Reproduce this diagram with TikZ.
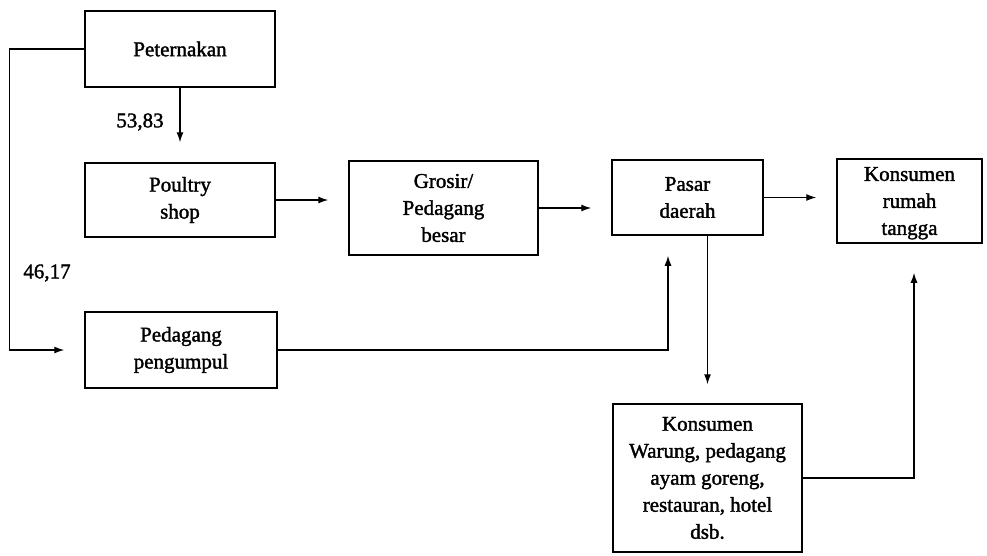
\documentclass[tikz,border=0pt]{standalone}
\usepackage{fontspec}
\setmainfont{Liberation Serif}
\newfontfamily\scanfont{Liberation Serif}[FakeBold=1.6]
\usetikzlibrary{arrows.meta,calc}
\tikzset {>={Latex[length=10pt,width=7pt]}}
\tikzset{box/.style={draw,line width=1.5pt,align=center,inner sep=0pt,
    font=\scanfont\fontsize{21}{27}\selectfont},
  flow/.style={->,line width=1.3pt},
  lbl/.style={font=\scanfont\fontsize{21}{27}\selectfont}}

\begin{document}
\begin{tikzpicture}[x=1pt,y=-1pt]
\useasboundingbox (0,0) rectangle (987,555);

\node[box,minimum width=190pt,minimum height=76pt] (pet) at (180,49) {Peternakan};
\node[box,minimum width=190pt,minimum height=74pt] (poul) at (180,200) {Poultry\\shop};
\node[box,minimum width=189pt,minimum height=94pt] (gros) at (443.5,208) {Grosir/\\Pedagang\\besar};
\node[box,minimum width=151pt,minimum height=75pt] (pasar) at (687.5,197.5) {Pasar\\daerah};
\node[box,minimum width=145pt,minimum height=84pt,text depth=0pt] (krt) at (909.5,201) {Konsumen\\rumah\\tangga};
\node[box,minimum width=192pt,minimum height=76pt] (peng) at (181,350) {Pedagang\\pengumpul};
\node[box,minimum width=189pt,minimum height=148pt] (kw) at (707.5,478)
  {Konsumen\\Warung, pedagang\\ayam goreng,\\restauran, hotel\\dsb.};

% main chain
\draw[flow,shorten >=20pt] (pet) -- (poul);
\foreach \a/\b in {poul/gros,gros/pasar,pasar/krt}
  \draw[flow,shorten >=20pt] (\a.east) -- (\a.east -| \b.west);

% the other way round
\draw[flow,shorten >=20pt] (pet.west) -- ++(-75,0) |- (peng.west);
\draw[flow,shorten >=20pt] (peng.east) -| ($(pasar.south)+(-19.5,0)$);
\draw[flow,shorten >=19pt] (kw.north |- pasar.south) -- (kw.north);
\draw[flow,shorten >=29pt] (kw.east) -| ($(krt.south)+(4.5,0)$);

\node[lbl] (p1) at (140,122) {53,83};
\node[lbl] (p2) at (47,273) {46,17};

\end{tikzpicture}
\end{document}
